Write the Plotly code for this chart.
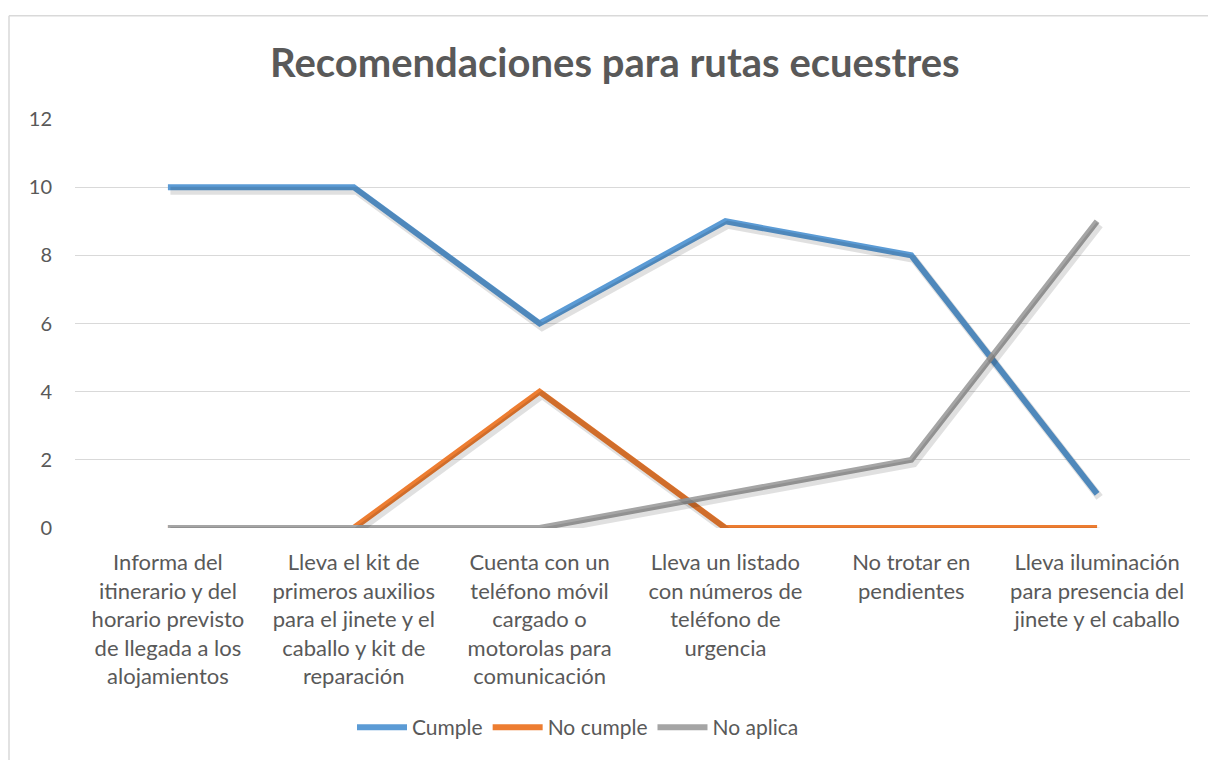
import plotly.graph_objects as go

categories = [
    "Informa del<br>itinerario y del<br>horario previsto<br>de llegada a los<br>alojamientos",
    "Lleva el kit de<br>primeros auxilios<br>para el jinete y el<br>caballo y kit de<br>reparación",
    "Cuenta con un<br>teléfono móvil<br>cargado o<br>motorolas para<br>comunicación",
    "Lleva un listado<br>con números de<br>teléfono de<br>urgencia",
    "No trotar en<br>pendientes",
    "Lleva iluminación<br>para presencia del<br>jinete y el caballo",
]
cumple = [10, 10, 6, 9, 8, 1]
no_cumple = [0, 0, 4, 0, 0, 0]
no_aplica = [0, 0, 0, 1, 2, 9]
y_ticks = [0, 2, 4, 6, 8, 10, 12]

series = [
    ("Cumple", cumple, "#5B9BD5"),
    ("No cumple", no_cumple, "#ED7D31"),
    ("No aplica", no_aplica, "#A5A5A5"),
]

FONT = "Lato, 'Open Sans', sans-serif"
TXT = "#595959"

W, H = 1208, 760
L, R, T, B = 75, 18, 119, 229
pw, ph = W - L - R, H - T - B
idx = list(range(len(categories)))

fig = go.Figure()

# soft shadows on an offset overlay axis
dx = 2.5 / (pw / 6)
dy = 3.5 / (ph / 12)
for name, vals, col in series:
    fig.add_trace(go.Scatter(x=idx, y=vals, mode="lines", xaxis="x2", yaxis="y2",
                             line=dict(color="rgba(0,0,0,0.12)", width=8),
                             hoverinfo="skip", showlegend=False))
for name, vals, col in series:
    fig.add_trace(go.Scatter(x=idx, y=vals, mode="lines", name=name,
                             line=dict(color=col, width=6)))

fig.update_layout(
    width=W, height=H,
    margin=dict(l=L, r=R, t=T, b=B),
    paper_bgcolor="white", plot_bgcolor="white",
    font=dict(family=FONT, color=TXT, size=20),
    title=dict(text="<b>Recomendaciones para rutas ecuestres</b>",
               x=0.509, xanchor="center", y=1 - 63 / H, yanchor="middle",
               font=dict(size=40, color=TXT, family=FONT)),
    xaxis=dict(range=[-0.5, 5.5], tickmode="array", tickvals=idx, ticktext=categories,
               showgrid=False, zeroline=False, showline=False, ticks="",
               tickfont=dict(size=22, color=TXT), ticklabelstandoff=19),
    yaxis=dict(range=[0, 12], tickvals=y_ticks, showgrid=True, gridcolor="#D9D9D9",
               gridwidth=1.3, zeroline=False, showline=False, ticks="", ticklen=0,
               tickfont=dict(size=20, color=TXT), ticklabelstandoff=22),
    xaxis2=dict(range=[-0.5 - dx, 5.5 - dx], overlaying="x", visible=False),
    yaxis2=dict(range=[0 + dy, 12 + dy], overlaying="y", visible=False),
    legend=dict(orientation="h", x=(578 - L) / pw, xanchor="center",
                y=-(732 - (H - B)) / ph, yanchor="middle",
                font=dict(size=21, color=TXT), itemwidth=50, traceorder="normal"),
    showlegend=True,
    shapes=[
        dict(type="line", xref="paper", yref="paper",
             x0=(9 - L) / pw, x1=(W + 5 - L) / pw,
             y0=1 + (T - 15) / ph, y1=1 + (T - 15) / ph,
             line=dict(color="#D9D9D9", width=1.5), layer="below"),
        dict(type="line", xref="paper", yref="paper",
             x0=(9 - L) / pw, x1=(9 - L) / pw,
             y0=-(H + 5 - T - ph) / ph, y1=1 + (T - 15) / ph,
             line=dict(color="#D9D9D9", width=1.5), layer="below"),
    ],
)

fig.write_html("out.html", config={"displayModeBar": False},
               post_script="document.body.style.margin='0';")
